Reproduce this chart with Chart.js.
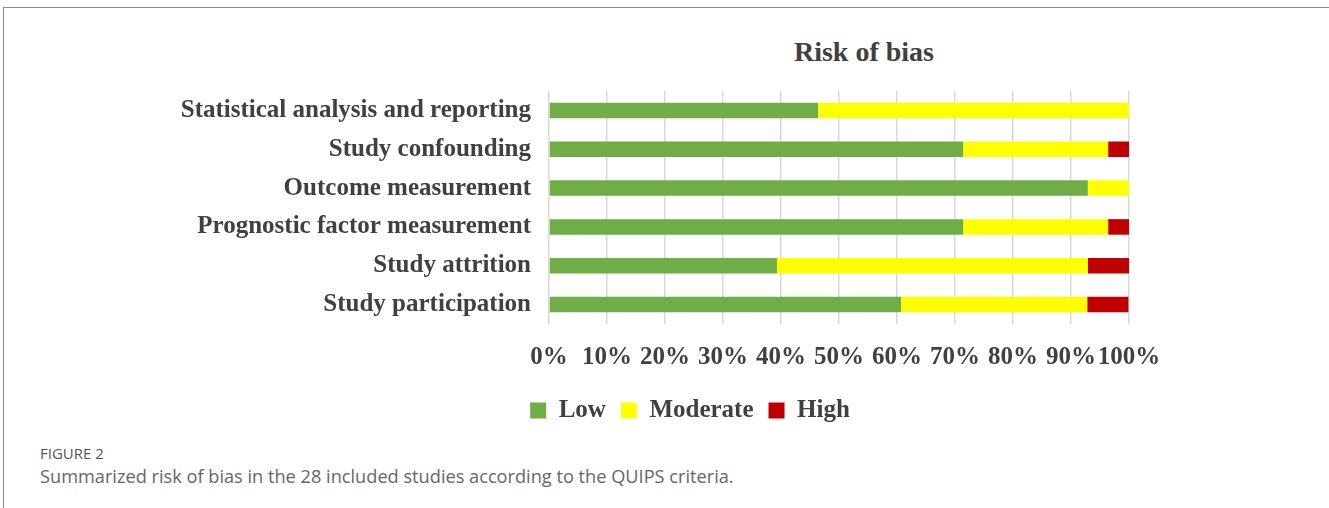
<!DOCTYPE html>
<html>
<head>
<meta charset="utf-8">
<script src="https://cdn.jsdelivr.net/npm/chart.js@4"></script>
<style>
    body { margin: 0; width: 1329px; height: 508px; background: #fff; overflow: hidden; position: relative; }
    #frame { position: absolute; left: 3px; top: 7px; width: 1340px; height: 520px; border: 1.5px solid #8a8a8a; }
    #title { position: absolute; left: 700px; width: 328px; top: 36px; text-align: center;
             font: bold 28px "Liberation Serif", "Times New Roman", serif; color: #404040; }
    #chart-wrap { position: absolute; left: 160px; top: 66px; width: 1060px; height: 367px; }
    #fig-label { position: absolute; left: 40px; top: 443px; font: 15px "Open Sans", sans-serif; color: #555; }
    #fig-caption { position: absolute; left: 40px; top: 464px; font: 18.2px "Open Sans", sans-serif; color: #666; }
</style>
</head>
<body>
<div id="frame"></div>
<div id="title">Risk of bias</div>
<div id="chart-wrap"><canvas id="bias-chart"></canvas></div>
<div id="fig-label">FIGURE 2</div>
<div id="fig-caption">Summarized risk of bias in the 28 included studies according to the QUIPS criteria.</div>
<script>
// ドメイン（上から順）
const domains = [
    'Statistical analysis and reporting',
    'Study confounding',
    'Outcome measurement',
    'Prognostic factor measurement',
    'Study attrition',
    'Study participation'
];

// 各リスク区分の割合（%）
const lowValues = [46.4, 71.4, 92.9, 71.4, 39.3, 60.7];
const moderateValues = [53.6, 25.0, 7.1, 25.0, 53.6, 32.1];
const highValues = [0, 3.6, 0, 3.6, 7.1, 7.1];

const xTicks = [0, 10, 20, 30, 40, 50, 60, 70, 80, 90, 100];

const serif = '"Liberation Serif", "Times New Roman", serif';
const textColor = '#404040';
const LEGEND_CENTER = 530; // 凡例の中心（キャンバス座標）

// 凡例を指定位置へ寄せる
const legendShift = {
    id: 'legendShift',
    beforeDraw(chart) {
        const lg = chart.legend;
        if (!lg) return;
        const shift = LEGEND_CENTER - (lg.left + lg.right) / 2;
        lg.left += shift;
        lg.right += shift;
    }
};

new Chart(document.getElementById('bias-chart'), {
    type: 'bar',
    data: {
        labels: domains,
        datasets: [
            { label: 'Low', data: lowValues, backgroundColor: '#70AD47' },
            { label: 'Moderate', data: moderateValues, backgroundColor: '#FFFF00' },
            { label: 'High', data: highValues, backgroundColor: '#C00000' }
        ]
    },
    plugins: [legendShift],
    options: {
        indexAxis: 'y',
        animation: false,
        responsive: true,
        maintainAspectRatio: false,
        categoryPercentage: 0.8,
        barPercentage: 0.5,
        layout: { padding: { left: 0, right: 91, top: 0, bottom: 0 } },
        plugins: {
            tooltip: { enabled: false },
            legend: {
                position: 'bottom',
                labels: {
                    boxWidth: 16, boxHeight: 16, padding: 15,
                    color: textColor,
                    font: { family: serif, size: 25, weight: 'bold' }
                }
            }
        },
        scales: {
            x: {
                stacked: true, min: 0, max: 100,
                afterBuildTicks: scale => { scale.ticks = xTicks.map(v => ({ value: v })); },
                afterFit: scale => { scale.height = 59; },
                ticks: {
                    callback: v => v + '%',
                    autoSkip: false, maxRotation: 0, minRotation: 0,
                    color: textColor, padding: 19,
                    font: { family: serif, size: 25, weight: 'bold' }
                },
                grid: { color: '#d9d9d9', lineWidth: 1.5, drawTicks: false },
                border: { display: false }
            },
            y: {
                stacked: true,
                afterFit: scale => { scale.width = 389; },
                ticks: {
                    autoSkip: false,
                    color: textColor, padding: 10,
                    font: { family: serif, size: 25, weight: 'bold' }
                },
                grid: { display: false },
                border: { display: false }
            }
        }
    }
});
</script>
</body>
</html>
